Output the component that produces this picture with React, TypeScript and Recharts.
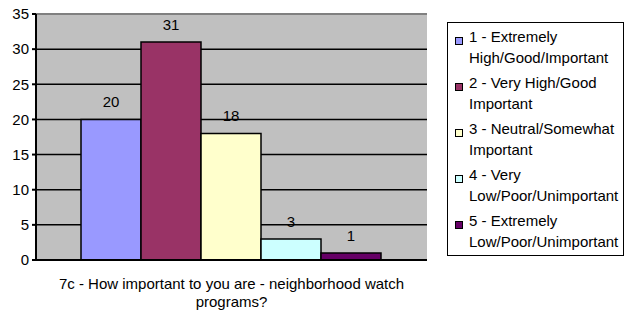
import React from "react";
import {
  BarChart,
  Bar,
  XAxis,
  YAxis,
  CartesianGrid,
  Legend,
  LabelList,
  ReferenceLine,
  Text,
} from "recharts";

const categories = ["7c - How important to you are - neighborhood watch programs?"];
const seriesNames = [
  "1 - Extremely High/Good/Important",
  "2 - Very High/Good Important",
  "3 - Neutral/Somewhat Important",
  "4 - Very Low/Poor/Unimportant",
  "5 - Extremely Low/Poor/Unimportant",
];
const seriesValues = [20, 31, 18, 3, 1];
const seriesColors = ["#9999FF", "#993366", "#FFFFCC", "#CCFFFF", "#660066"];
const yTicks = [0, 5, 10, 15, 20, 25, 30, 35];
const gridValues = [5, 10, 15, 20, 25, 30];

const FONT = "'Liberation Sans', Arial, sans-serif";

const data = categories.map((name) => {
  const row: Record<string, string | number> = { name };
  seriesValues.forEach((v, i) => {
    row[`s${i}`] = v;
  });
  return row;
});

const CategoryTick = (props: any) => {
  const { x, payload } = props;
  return (
    <Text
      x={x}
      y={278}
      width={370}
      textAnchor="middle"
      verticalAnchor="start"
      lineHeight={18}
      fontSize={15}
      fontFamily={FONT}
      fill="#000"
    >
      {payload.value}
    </Text>
  );
};

const renderLegend = () => (
  <div
    style={{
      border: "1px solid #000",
      boxSizing: "border-box",
      width: 177,
      height: 234,
      padding: "4px 0 0 7px",
      background: "#fff",
      fontFamily: FONT,
      fontSize: 15,
      color: "#000",
      textAlign: "left",
    }}
  >
    {seriesNames.map((n, i) => (
      <div
        key={n}
        style={{ display: "flex", alignItems: "flex-start", lineHeight: "20.5px", marginBottom: 5 }}
      >
        <span
          style={{
            width: 6,
            height: 6,
            border: "1px solid #000",
            background: seriesColors[i],
            marginTop: 10,
            marginRight: 6,
            flexShrink: 0,
          }}
        />
        <span style={{ width: 154 }}>{n}</span>
      </div>
    ))}
  </div>
);

export default function App() {
  return (
    <div style={{ position: "absolute", left: 0, top: 0, width: 624, height: 312, background: "#fff" }}>
      <BarChart
        width={624}
        height={312}
        data={data}
        margin={{ top: 14, right: 197, bottom: 0, left: 0 }}
        barCategoryGap={45}
        barGap={0}
      >
        <CartesianGrid
          vertical={false}
          horizontalValues={gridValues}
          fill="#C0C0C0"
          fillOpacity={1}
          stroke="#000"
          strokeWidth={1.5}
        />
        <XAxis
          dataKey="name"
          height={52}
          tickLine={false}
          axisLine={{ stroke: "#000", strokeWidth: 2 }}
          tick={<CategoryTick />}
          interval={0}
        />
        <YAxis
          width={36}
          domain={[0, 35]}
          ticks={yTicks}
          interval={0}
          tickSize={4}
          tickMargin={3}
          tickLine={{ stroke: "#000", strokeWidth: 2 }}
          axisLine={{ stroke: "#000", strokeWidth: 2 }}
          tick={{ fill: "#000", fontSize: 15, fontFamily: FONT }}
        />
        <YAxis
          yAxisId="right"
          orientation="right"
          width={0}
          domain={[0, 35]}
          tick={false}
          tickLine={false}
          axisLine={{ stroke: "#808080", strokeWidth: 2 }}
        />
        <ReferenceLine y={35} stroke="#808080" strokeWidth={2} />
        {seriesNames.map((n, i) => (
          <Bar
            key={n}
            dataKey={`s${i}`}
            name={n}
            fill={seriesColors[i]}
            stroke="#000"
            strokeWidth={1.5}
            isAnimationActive={false}
          >
            <LabelList
              dataKey={`s${i}`}
              position="top"
              offset={12}
              fill="#000"
              fontSize={15}
              fontFamily={FONT}
            />
          </Bar>
        ))}
        <Legend
          layout="vertical"
          align="center"
          verticalAlign="middle"
          content={renderLegend}
          wrapperStyle={{ left: 447, top: 22, width: 177, height: 234 }}
        />
      </BarChart>
    </div>
  );
}
